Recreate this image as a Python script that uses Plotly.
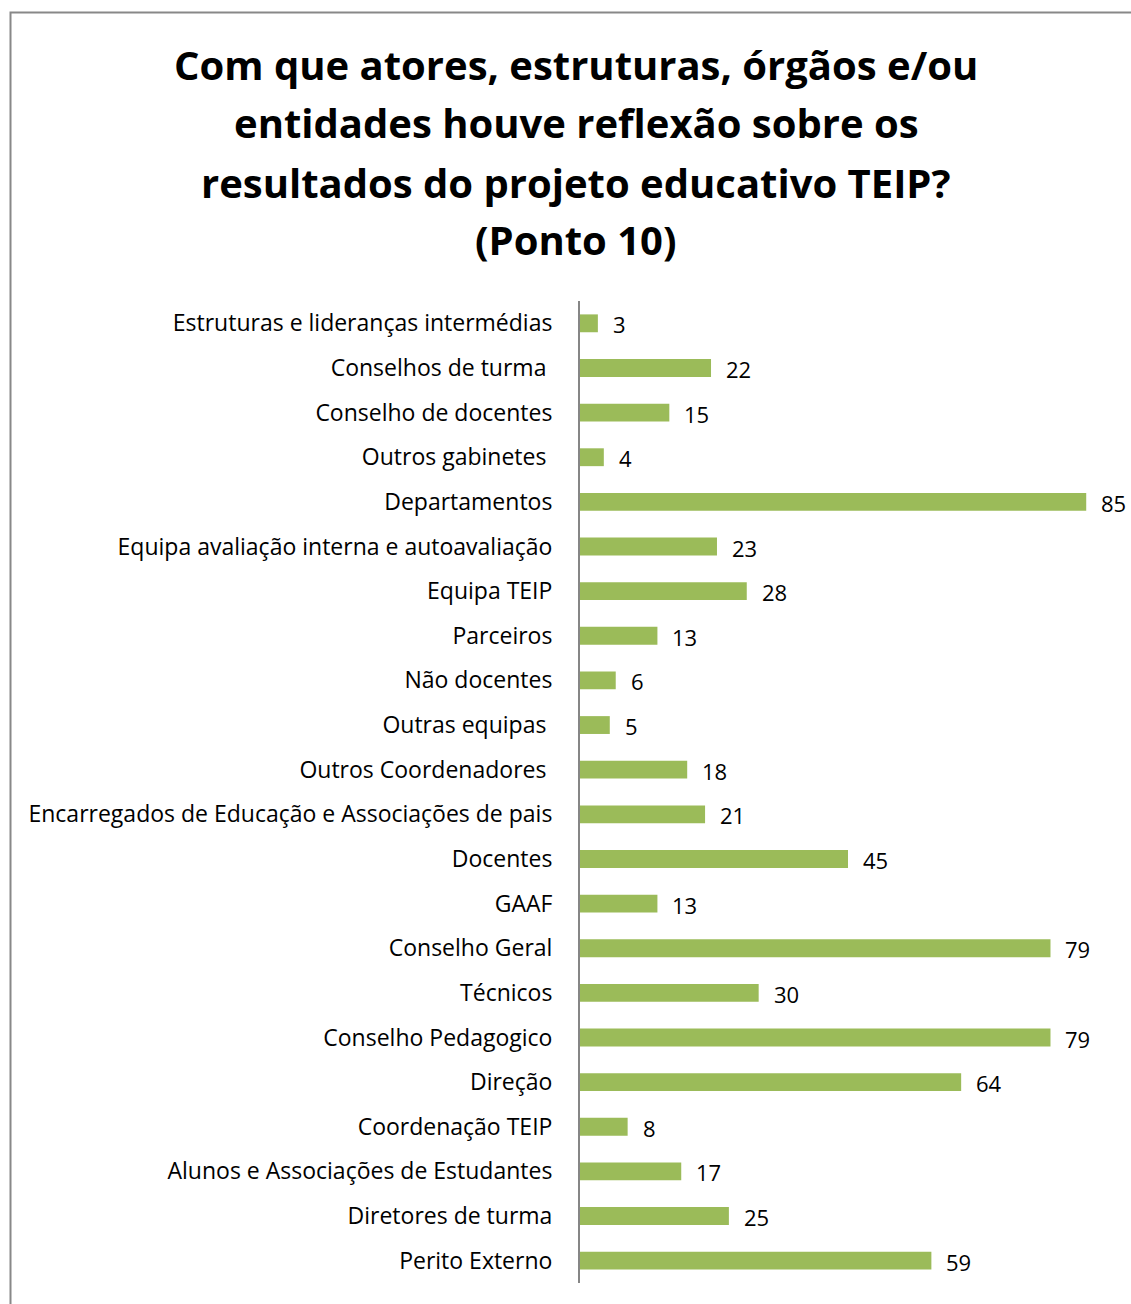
import plotly.graph_objects as go

categories = [
    "Estruturas e lideranças intermédias",
    "Conselhos de turma\u00a0",
    "Conselho de docentes",
    "Outros gabinetes\u00a0",
    "Departamentos",
    "Equipa avaliação interna e autoavaliação",
    "Equipa TEIP",
    "Parceiros",
    "Não docentes",
    "Outras equipas\u00a0",
    "Outros Coordenadores\u00a0",
    "Encarregados de Educação e Associações de pais",
    "Docentes",
    "GAAF",
    "Conselho Geral",
    "Técnicos",
    "Conselho Pedagogico",
    "Direção",
    "Coordenação TEIP",
    "Alunos e Associações de Estudantes",
    "Diretores de turma",
    "Perito Externo",
]
values = [3, 22, 15, 4, 85, 23, 28, 13, 6, 5, 18, 21, 45, 13, 79, 30, 79, 64, 8, 17, 25, 59]
title_lines = [
    "Com que atores, estruturas, órgãos e/ou",
    "entidades houve reflexão sobre os",
    "resultados do projeto educativo TEIP?",
    "(Ponto 10)",
]

W, H = 1131, 1304
L, R, T, B = 580, 1116, 301, 1283
FONT = "Open Sans"

fig = go.Figure(go.Bar(
    x=values, y=categories, orientation="h",
    marker=dict(color="#9BBB59", line=dict(width=0)),
    hoverinfo="x+y",
))

for v, c in zip(values, categories):
    fig.add_annotation(x=v, y=c, xref="x", yref="y", text=str(v),
                       showarrow=False, xanchor="left", xshift=13, yshift=-1,
                       font=dict(family=FONT, size=22, color="#000"))

pw, ph = R - L, B - T
def px(x):
    return (x - L) / pw
def py(y):
    return (B - y) / ph

title_y = [65, 123, 182, 240]
for line, yy in zip(title_lines, title_y):
    fig.add_annotation(x=px(576), y=py(yy), xref="paper", yref="paper",
                       text="<b>" + line + "</b>", showarrow=False,
                       xanchor="center", yanchor="middle",
                       font=dict(family=FONT, size=40, color="#000"))

fig.add_shape(type="rect", xref="paper", yref="paper",
              x0=px(10.5), x1=px(1140), y0=py(1315), y1=py(12.5),
              line=dict(color="#888888", width=2), fillcolor="rgba(0,0,0,0)", layer="below")

fig.update_layout(
    width=W, height=H,
    margin=dict(l=L, r=W - R, t=T, b=H - B, pad=0),
    paper_bgcolor="white", plot_bgcolor="white",
    bargap=0.6, showlegend=False,
    xaxis=dict(range=[0, 90], showgrid=False, showticklabels=False, zeroline=False,
               showline=False, ticks="", fixedrange=True),
    yaxis=dict(autorange="reversed", showgrid=False, showline=True, linecolor="#868686",
               linewidth=2, ticks="", ticklabelstandoff=21,
               tickfont=dict(family=FONT, size=23, color="#000"), fixedrange=True),
)

fig.write_html("out.html")
